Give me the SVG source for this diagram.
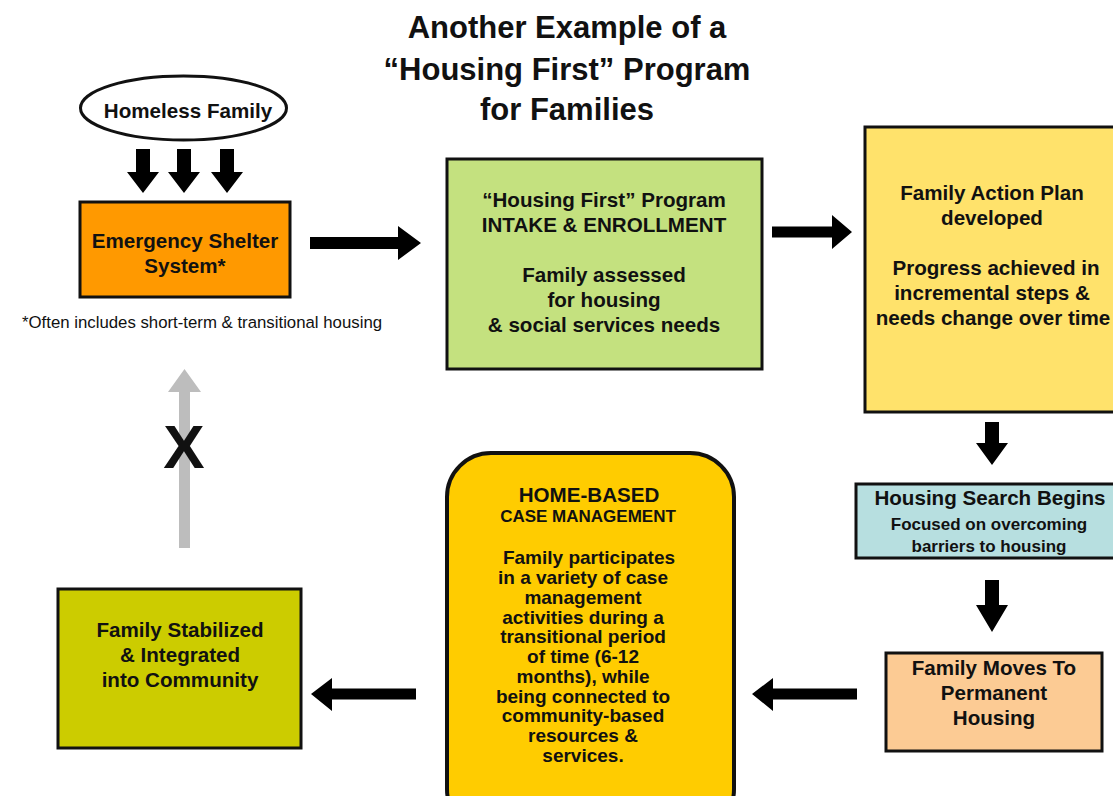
<svg xmlns="http://www.w3.org/2000/svg" width="1113" height="796" viewBox="0 0 1113 796">
<style>
text{font-family:"Liberation Sans",Arial,sans-serif;font-weight:bold;fill:#111;text-anchor:middle}
.t{font-size:31px}
.n{font-size:20.6px}
.c{font-size:19px}
.s{font-size:17px}
.box{stroke:#111;stroke-width:3}
.arr{fill:#000}
</style>
<rect width="1113" height="796" fill="#fff"/>
<g id="title">
<text class="t" x="567" y="38">Another Example of a</text>
<text class="t" x="567" y="80">“Housing First” Program</text>
<text class="t" x="567" y="120">for Families</text>
</g>
<g id="connectors">
<polygon class="arr" points="136,149 150,149 150,172 159,172 143,193 127,172 136,172"/>
<polygon class="arr" points="177,149 191,149 191,172 200,172 184,193 168,172 177,172"/>
<polygon class="arr" points="220,149 234,149 234,172 243,172 227,193 211,172 220,172"/>
<polygon class="arr" points="310,237 398,237 398,226 421,243 398,260 398,249 310,249"/>
<polygon class="arr" points="772,226.5 832,226.5 832,215 852,232 832,249 832,237.5 772,237.5"/>
<polygon class="arr" points="985,422 999,422 999,443 1008,443 992,465 976,443 985,443"/>
<polygon class="arr" points="985,580 999,580 999,605 1008,605 992,632 976,605 985,605"/>
<polygon class="arr" points="857,688.5 773,688.5 773,678 752,694 773,711 773,699.5 857,699.5"/>
<polygon class="arr" points="416,688.5 332,688.5 332,678 311,694 332,711 332,699.5 416,699.5"/>
<polygon fill="#BDBDBD" points="179,548 190,548 190,392 201,392 184.5,369 168,392 179,392"/>
<text x="184" y="468" style="font-size:62px">X</text>
</g>
<g id="homeless-family">
<ellipse cx="183.5" cy="108" rx="103" ry="32" fill="#fff" stroke="#111" stroke-width="3"/>
<text class="n" x="188" y="118">Homeless Family</text>
</g>
<g id="emergency-shelter">
<rect class="box" x="80" y="202" width="210" height="95" fill="#FF9900"/>
<text class="n" x="185" y="248">Emergency Shelter</text>
<text class="n" x="185" y="273">System*</text>
<text x="22" y="328" style="font-size:16.8px;font-weight:normal;text-anchor:start">*Often includes short-term &amp; transitional housing</text>
</g>
<g id="intake">
<rect class="box" x="447" y="159" width="315" height="210" fill="#C4E17F"/>
<text class="n" x="604" y="207">“Housing First” Program</text>
<text class="n" x="604" y="232">INTAKE &amp; ENROLLMENT</text>
<text class="n" x="604" y="282">Family assessed</text>
<text class="n" x="604" y="307">for housing</text>
<text class="n" x="604" y="332">&amp; social services needs</text>
</g>
<g id="action-plan">
<rect class="box" x="865" y="127" width="260" height="285" fill="#FFE26B"/>
<text class="n" x="992" y="200">Family Action Plan</text>
<text class="n" x="992" y="225">developed</text>
<text class="n" x="996" y="275">Progress achieved in</text>
<text class="n" x="992" y="300">incremental steps &amp;</text>
<text class="n" x="993" y="325">needs change over time</text>
</g>
<g id="housing-search">
<rect class="box" x="856" y="484" width="270" height="74" fill="#B7DFE0"/>
<text class="n" x="990" y="505">Housing Search Begins</text>
<text class="s" x="989" y="530">Focused on overcoming</text>
<text class="s" x="989" y="552">barriers to housing</text>
</g>
<g id="permanent-housing">
<rect class="box" x="886" y="653" width="216" height="98" fill="#FCCB94"/>
<text class="n" x="994" y="675">Family Moves To</text>
<text class="n" x="994" y="700">Permanent</text>
<text class="n" x="994" y="725">Housing</text>
</g>
<g id="case-management">
<rect x="447" y="453" width="287" height="380" rx="44" ry="44" fill="#FFCC00" stroke="#111" stroke-width="4"/>
<text class="n" x="589" y="502">HOME-BASED</text>
<text class="s" x="588" y="522">CASE MANAGEMENT</text>
<text class="c" x="589" y="564">Family participates</text>
<text class="c" x="583" y="584">in a variety of case</text>
<text class="c" x="583" y="604">management</text>
<text class="c" x="583" y="624">activities during a</text>
<text class="c" x="583" y="643">transitional period</text>
<text class="c" x="583" y="663">of time (6-12</text>
<text class="c" x="583" y="683">months), while</text>
<text class="c" x="583" y="703">being connected to</text>
<text class="c" x="583" y="722">community-based</text>
<text class="c" x="583" y="742">resources &amp;</text>
<text class="c" x="583" y="762">services.</text>
</g>
<g id="stabilized">
<rect class="box" x="58" y="589" width="243" height="159" fill="#CCCC00"/>
<text class="n" x="180" y="637">Family Stabilized</text>
<text class="n" x="180" y="662">&amp; Integrated</text>
<text class="n" x="180" y="687">into Community</text>
</g>
</svg>
